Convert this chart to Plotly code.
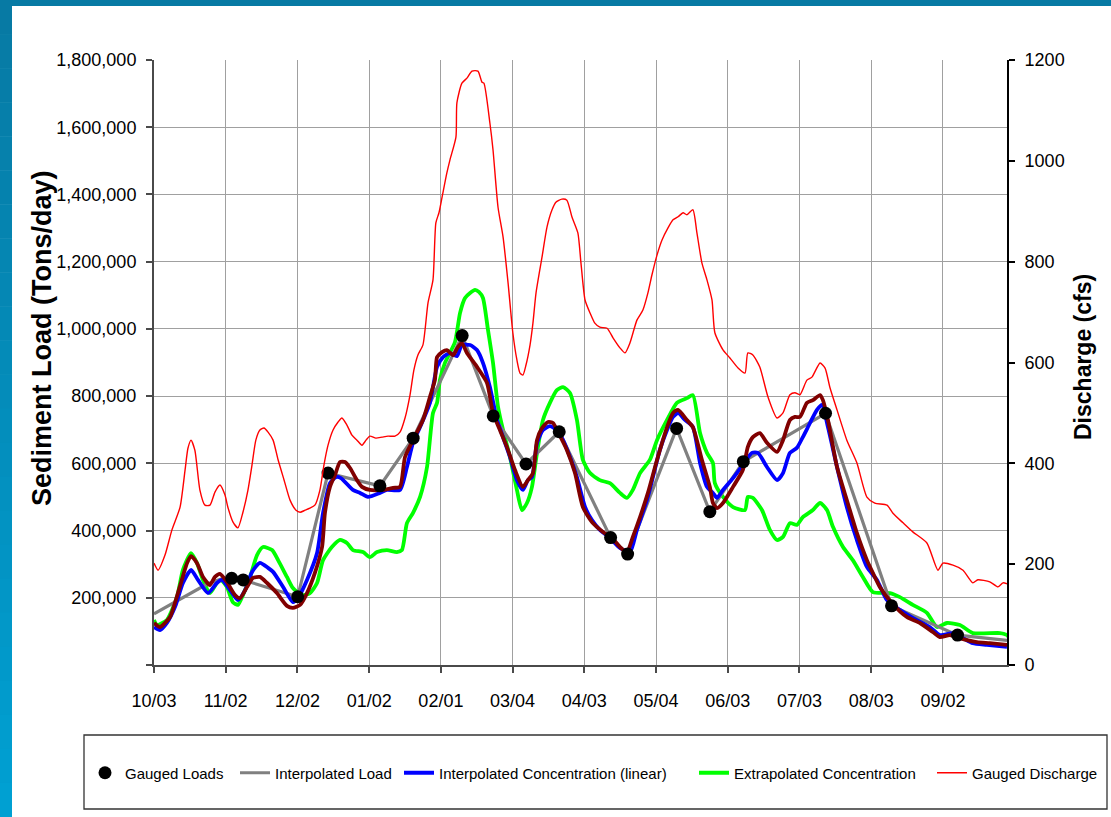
import plotly.graph_objects as go

# ---------------------------------------------------------------------------
# Data (x = days since 10/03, water year)
# ---------------------------------------------------------------------------
tick_days = [0, 30, 60, 90, 120, 150, 180, 210, 240, 270, 300, 330]
tick_labels = ["10/03", "11/02", "12/02", "01/02", "02/01", "03/04",
               "04/03", "05/04", "06/03", "07/03", "08/03", "09/02"]

# Gauged discharge (cfs)
q_days = [0, 1.7, 4.6, 7.5, 10.9, 13.0, 14.2, 15.5, 17.1, 19.2,
          21.3, 23.4, 25.5, 27.6, 29.7, 30.9, 33.0, 35.1, 37.2, 39.3,
          41.0, 42.6, 44.3, 46.0, 47.7, 49.8, 51.9, 54.4, 56.9, 59.4,
          61.1, 63.2, 65.2, 67.3, 69.4, 71.1, 72.8, 74.9, 77.0, 78.6,
          80.7, 82.8, 84.9, 87.0, 88.7, 90.3, 92.8, 95.4, 97.9, 100.8,
          102.9, 105.0, 107.1, 108.7, 110.4, 112.5, 114.6, 116.7, 117.9, 119.2,
          120.5, 122.5, 123.8, 126.3, 126.7, 128.8, 130.9, 133.0, 135.5, 137.2,
          138.0, 140.5, 141.8, 143.9, 146.0, 148.1, 150.1, 151.8, 153.1, 154.3,
          155.6, 157.3, 158.5, 159.8, 162.3, 164.4, 166.5, 168.1, 170.6, 172.7,
          174.8, 177.3, 178.6, 180.3, 182.4, 184.4, 186.5, 189.5, 192.0, 194.9,
          197.0, 199.1, 202.0, 204.5, 206.6, 208.3, 210.4, 212.5, 215.0, 217.1,
          219.2, 221.3, 222.9, 225.4, 227.1, 229.2, 231.3, 233.4, 234.6, 238.0,
          240.9, 244.3, 247.2, 248.4, 250.5, 253.4, 256.8, 260.6, 263.1, 266.0,
          268.1, 270.2, 273.1, 275.2, 278.6, 280.7, 282.7, 285.7, 289.8, 294.0,
          298.2, 301.5, 306.6, 309.1, 313.3, 317.4, 323.3, 327.9, 330.0, 334.2,
          338.4, 342.5, 344.6, 349.6, 353.0, 355.1, 356.8]
q_cfs = [202, 188, 218, 268, 313, 387, 430, 446, 426, 347,
         317, 317, 343, 357, 337, 313, 284, 272, 303, 347,
         397, 446, 466, 470, 462, 446, 407, 367, 327, 307,
         303, 307, 311, 317, 347, 397, 436, 466, 482, 490,
         476, 456, 446, 436, 446, 454, 450, 452, 454, 454,
         462, 490, 536, 585, 615, 635, 718, 764, 877, 897,
         928, 976, 1002, 1047, 1115, 1154, 1164, 1178, 1178, 1156,
         1154, 1075, 1022, 908, 849, 758, 659, 605, 579, 575,
         595, 635, 678, 738, 809, 869, 903, 918, 924, 922,
         889, 857, 797, 724, 698, 678, 670, 668, 649, 629,
         619, 639, 684, 704, 738, 774, 813, 843, 867, 883,
         889, 897, 893, 903, 857, 797, 764, 724, 659, 625,
         609, 589, 579, 619, 615, 591, 532, 490, 500, 536,
         540, 536, 565, 571, 599, 589, 551, 506, 446, 401,
         333, 321, 317, 301, 282, 264, 242, 188, 202, 198,
         188, 163, 169, 165, 155, 163, 161]

# Gauged loads (tons/day)
gauged_days = [32.5, 37.3, 60.1, 72.8, 94.5, 108.4, 128.9, 141.9, 155.6,
               169.5, 191.0, 198.1, 218.6, 232.5, 246.5, 280.9, 308.5, 336.1]
gauged_load = [258000, 253000, 203000, 571000, 533000, 675000, 980000, 741000, 598000,
               694000, 379000, 330000, 704000, 456000, 605000, 749000, 176000, 89000]

# Interpolated load (tons/day)
interp_days = [0, 22.2, 28.0, 32.5, 37.3, 60.1, 72.8, 94.5, 108.4, 128.9, 141.9,
               155.6, 169.5, 191.0, 198.1, 218.6, 232.5, 246.5, 280.9, 308.5, 336.1, 356.8]
interp_load = [152000, 241000, 256000, 258000, 253000, 203000, 571000, 533000, 675000,
               980000, 741000, 598000, 694000, 379000, 330000, 704000, 456000, 605000,
               749000, 176000, 89000, 73000]

# Interpolated concentration (linear) load (tons/day)
lin_days = [0, 2.5, 5.4, 8.8, 12.1, 15.5, 18.4, 22.6, 26.3, 28.4,
            31.8, 35.1, 38.1, 41.0, 44.3, 47.7, 49.8, 54.0, 58.1, 60.2,
            64.0, 68.2, 70.7, 73.6, 76.1, 78.2, 83.2, 86.2, 89.5, 94.5,
            97.4, 102.9, 105.8, 108.3, 111.3, 115.4, 118.4, 120.9, 123.8, 126.7,
            128.8, 132.2, 135.1, 137.6, 140.5, 143.5, 146.0, 148.9, 151.8, 154.3,
            156.4, 158.1, 160.2, 162.7, 165.6, 168.5, 171.1, 174.0, 176.9, 180.3,
            183.2, 186.5, 190.7, 194.9, 199.1, 202.0, 206.2, 208.7, 211.6, 214.6,
            217.1, 219.2, 222.1, 225.4, 228.4, 231.3, 233.8, 235.5, 238.0, 242.2,
            246.3, 250.1, 252.6, 256.4, 260.6, 263.1, 266.0, 268.9, 271.4, 274.4,
            277.3, 279.4, 281.9, 285.7, 289.8, 294.0, 298.2, 302.4, 306.6, 312.0,
            317.4, 324.5, 328.7, 334.2, 338.4, 342.5, 348.4, 356.8]
lin_load = [113000, 104000, 125000, 173000, 244000, 283000, 253000, 214000, 244000, 253000,
            223000, 193000, 223000, 277000, 304000, 289000, 277000, 232000, 187000, 199000,
            253000, 333000, 452000, 541000, 559000, 556000, 521000, 512000, 500000, 512000,
            521000, 521000, 589000, 660000, 708000, 780000, 887000, 916000, 928000, 919000,
            952000, 952000, 937000, 899000, 827000, 729000, 678000, 619000, 550000, 521000,
            550000, 559000, 660000, 699000, 711000, 699000, 669000, 619000, 559000, 470000,
            431000, 402000, 378000, 348000, 336000, 402000, 491000, 559000, 640000, 699000,
            738000, 750000, 729000, 708000, 601000, 530000, 512000, 497000, 521000, 556000,
            595000, 631000, 631000, 589000, 550000, 571000, 631000, 646000, 678000, 720000,
            759000, 774000, 708000, 589000, 470000, 372000, 292000, 253000, 193000, 164000,
            140000, 113000, 89000, 95000, 80000, 65000, 60000, 54000]

# Extrapolated concentration load (tons/day)
ext_days = [0, 1.3, 5.4, 9.6, 12.1, 15.5, 18.0, 20.5, 23.4, 26.3,
            28.0, 30.5, 33.0, 35.1, 37.2, 40.2, 43.1, 45.6, 49.4, 51.9,
            55.6, 58.1, 61.9, 65.2, 68.2, 70.7, 74.4, 77.8, 80.7, 83.2,
            87.4, 90.3, 93.3, 97.4, 101.6, 103.7, 105.8, 108.3, 111.3, 114.2,
            116.7, 118.4, 119.6, 121.7, 125.9, 128.0, 130.1, 132.2, 134.3, 135.9,
            137.6, 139.7, 141.8, 143.9, 146.0, 148.9, 151.8, 153.9, 156.0, 158.1,
            160.2, 162.7, 165.6, 168.5, 171.1, 174.0, 176.9, 179.4, 182.4, 186.5,
            190.7, 194.9, 197.8, 200.3, 203.3, 207.4, 210.4, 214.6, 218.7, 222.9,
            225.4, 228.4, 231.3, 233.8, 234.6, 238.0, 242.2, 247.2, 248.4, 250.5,
            254.3, 257.6, 260.6, 263.1, 266.0, 268.9, 271.4, 275.6, 278.6, 281.5,
            284.0, 288.2, 292.3, 296.5, 300.7, 307.8, 312.0, 317.4, 323.3, 327.5,
            331.7, 337.1, 342.5, 353.8, 356.8, 358.5]
ext_load = [134000, 119000, 134000, 202000, 283000, 333000, 303000, 253000, 214000, 244000,
            253000, 232000, 187000, 179000, 208000, 262000, 327000, 351000, 342000, 312000,
            262000, 229000, 208000, 214000, 244000, 312000, 351000, 372000, 363000, 342000,
            336000, 321000, 336000, 342000, 336000, 342000, 422000, 452000, 500000, 589000,
            750000, 780000, 848000, 899000, 961000, 1047000, 1092000, 1107000, 1116000, 1110000,
            1092000, 997000, 899000, 768000, 699000, 619000, 521000, 461000, 482000, 530000,
            631000, 729000, 780000, 818000, 827000, 809000, 729000, 610000, 571000, 550000,
            541000, 512000, 497000, 521000, 571000, 610000, 669000, 729000, 780000, 794000,
            803000, 690000, 631000, 601000, 541000, 500000, 470000, 461000, 500000, 497000,
            461000, 402000, 372000, 381000, 422000, 417000, 440000, 461000, 482000, 461000,
            411000, 351000, 312000, 262000, 217000, 214000, 202000, 179000, 155000, 113000,
            125000, 119000, 95000, 95000, 89000, 70000]

# Daily load (tons/day)
daily_days = [0, 2.5, 6.7, 10.0, 13.8, 15.5, 18.0, 20.5, 23.4, 25.5,
              27.6, 30.5, 33.9, 36.0, 38.9, 41.4, 44.3, 47.3, 51.4, 55.6,
              58.1, 61.1, 64.0, 67.3, 70.3, 71.5, 73.6, 75.7, 77.8, 79.9,
              82.0, 84.9, 87.0, 90.3, 95.8, 100.0, 102.9, 105.0, 108.3, 112.5,
              115.4, 117.5, 118.4, 120.5, 122.5, 125.1, 127.1, 128.8, 130.9, 135.1,
              139.3, 141.8, 144.7, 147.6, 151.0, 154.3, 156.4, 158.5, 160.2, 162.3,
              164.8, 166.9, 169.0, 172.7, 176.1, 179.4, 183.2, 187.8, 191.6, 194.9,
              197.8, 200.3, 203.3, 206.6, 210.4, 214.6, 217.1, 219.2, 222.9, 225.4,
              229.2, 232.5, 233.8, 235.5, 238.0, 242.2, 246.3, 248.4, 250.5, 253.4,
              256.4, 260.6, 263.1, 266.0, 268.1, 270.2, 273.1, 275.6, 278.6, 279.8,
              281.9, 285.7, 289.8, 294.0, 298.2, 300.7, 303.6, 308.7, 314.9, 320.4,
              325.8, 328.7, 332.9, 338.4, 344.2, 349.6, 356.8]
daily_load = [125000, 113000, 143000, 214000, 303000, 324000, 303000, 262000, 238000, 262000,
              271000, 247000, 208000, 199000, 232000, 259000, 262000, 244000, 214000, 176000,
              170000, 179000, 214000, 274000, 351000, 452000, 530000, 565000, 604000, 604000,
              586000, 550000, 530000, 521000, 521000, 527000, 530000, 619000, 669000, 729000,
              797000, 848000, 916000, 931000, 937000, 922000, 946000, 958000, 928000, 887000,
              839000, 750000, 699000, 649000, 580000, 530000, 550000, 571000, 669000, 705000,
              723000, 720000, 693000, 640000, 571000, 470000, 425000, 396000, 378000, 351000,
              336000, 381000, 440000, 512000, 610000, 708000, 750000, 759000, 729000, 708000,
              610000, 530000, 482000, 467000, 482000, 530000, 580000, 649000, 678000, 690000,
              661000, 634000, 669000, 729000, 738000, 738000, 780000, 788000, 803000, 788000,
              729000, 589000, 491000, 393000, 312000, 274000, 232000, 184000, 143000, 125000,
              98000, 83000, 89000, 77000, 68000, 65000, 60000]

load_ticks = [0, 200000, 400000, 600000, 800000, 1000000, 1200000, 1400000, 1600000, 1800000]
cfs_ticks = [0, 200, 400, 600, 800, 1000, 1200]

# ---------------------------------------------------------------------------
# Page geometry (pixels) and helpers to convert to paper coordinates
# ---------------------------------------------------------------------------
W, H = 1111, 817
L, R, T, B = 154, 1007, 60, 665


def px(x):
    return (x - L) / (R - L)


def py(y):
    return (B - y) / (B - T)


FONT = "Liberation Sans, Arial, sans-serif"
SMOOTH = dict(shape="spline", smoothing=0.6)

fig = go.Figure()

fig.add_trace(go.Scatter(
    x=q_days, y=q_cfs, name="Gauged Discharge", mode="lines",
    line=dict(color="#ff0000", width=1.4, **SMOOTH), yaxis="y2", legend="legend5"))
fig.add_trace(go.Scatter(
    x=ext_days, y=ext_load, name="Extrapolated Concentration", mode="lines",
    line=dict(color="#00ff00", width=3.8, **SMOOTH), legend="legend4"))
fig.add_trace(go.Scatter(
    x=interp_days, y=interp_load, name="Interpolated Load", mode="lines",
    line=dict(color="#808080", width=3.2), legend="legend2"))
fig.add_trace(go.Scatter(
    x=lin_days, y=lin_load, name="Interpolated Concentration (linear)", mode="lines",
    line=dict(color="#0000ff", width=3.8, **SMOOTH), legend="legend3"))
fig.add_trace(go.Scatter(
    x=daily_days, y=daily_load, name="Daily Load", mode="lines",
    line=dict(color="#800000", width=3.8, **SMOOTH), showlegend=False))
fig.add_trace(go.Scatter(
    x=gauged_days, y=gauged_load, name="Gauged Loads", mode="markers",
    marker=dict(color="#000000", size=13), legend="legend"))

axis_common = dict(
    showline=True, linewidth=2, ticks="outside", ticklen=6, tickwidth=1.5,
    tickfont=dict(family=FONT, size=18, color="#000000"), zeroline=False,
)


def legend_at(x_start):
    # one legend entry per box, placed along the row inside the frame below the plot
    return dict(orientation="h", x=px(x_start), xanchor="left", y=py(773), yanchor="middle",
                bgcolor="rgba(0,0,0,0)", borderwidth=0,
                font=dict(family=FONT, size=15, color="#000000"))


fig.update_layout(
    width=W, height=H,
    margin=dict(l=L, r=W - R, t=T, b=H - B, pad=0, autoexpand=False),
    paper_bgcolor="#ffffff", plot_bgcolor="#ffffff",
    font=dict(family=FONT, color="#000000"),
    xaxis=dict(
        range=[0, 356.8], tickmode="array", tickvals=tick_days, ticktext=tick_labels,
        showgrid=True, gridcolor="#a0a0a0", gridwidth=1,
        linecolor="#4a4a4a", tickcolor="#4a4a4a", ticklabelstandoff=12,
        **axis_common),
    yaxis=dict(
        range=[0, 1800000], tickmode="array", tickvals=load_ticks,
        ticktext=[""] + [f"{v:,}" for v in load_ticks[1:]],
        showgrid=True, gridcolor="#a0a0a0", gridwidth=1,
        linecolor="#4a4a4a", tickcolor="#4a4a4a", ticklabelstandoff=6,
        **axis_common),
    yaxis2=dict(
        overlaying="y", side="right", range=[0, 1200], tickmode="array",
        tickvals=cfs_ticks, ticktext=[str(v) for v in cfs_ticks],
        showgrid=False, linecolor="#000000", tickcolor="#000000",
        ticklabelstandoff=6, **axis_common),
    legend=legend_at(85),
    legend2=legend_at(235),
    legend3=legend_at(399),
    legend4=legend_at(694),
    legend5=legend_at(932),
    showlegend=True,
)

# Frame: blue strips along the top and left edge of the page
shapes = [dict(type="rect", xref="paper", yref="paper",
               x0=px(0), x1=px(W), y0=py(0), y1=py(6),
               line=dict(width=0), fillcolor="#077aa4", layer="below")]
n_bands = 24
top_rgb, bot_rgb = (7, 122, 164), (0, 160, 210)
for i in range(n_bands):
    f = i / (n_bands - 1)
    c = tuple(round(a + (b - a) * f) for a, b in zip(top_rgb, bot_rgb))
    y0 = i * H / n_bands
    y1 = (i + 1) * H / n_bands
    shapes.append(dict(type="rect", xref="paper", yref="paper",
                       x0=px(0), x1=px(12), y0=py(y0), y1=py(y1 + 0.5),
                       line=dict(width=0), fillcolor="rgb(%d,%d,%d)" % c, layer="below"))
# Legend frame
shapes.append(dict(type="rect", xref="paper", yref="paper",
                   x0=px(84), x1=px(1107), y0=py(735), y1=py(809),
                   line=dict(color="#333333", width=1.3), fillcolor="#ffffff", layer="below"))
fig.update_layout(shapes=shapes)

fig.add_annotation(
    x=px(42), y=py(338), xref="paper", yref="paper", showarrow=False,
    text="<b>Sediment Load (Tons/day)</b>", textangle=-90,
    font=dict(family=FONT, size=27, color="#000000"), xanchor="center", yanchor="middle")
fig.add_annotation(
    x=px(1083), y=py(357), xref="paper", yref="paper", showarrow=False,
    text="<b>Discharge (cfs)</b>", textangle=-90,
    font=dict(family=FONT, size=23, color="#000000"), xanchor="center", yanchor="middle")

fig.write_html("out.html")
